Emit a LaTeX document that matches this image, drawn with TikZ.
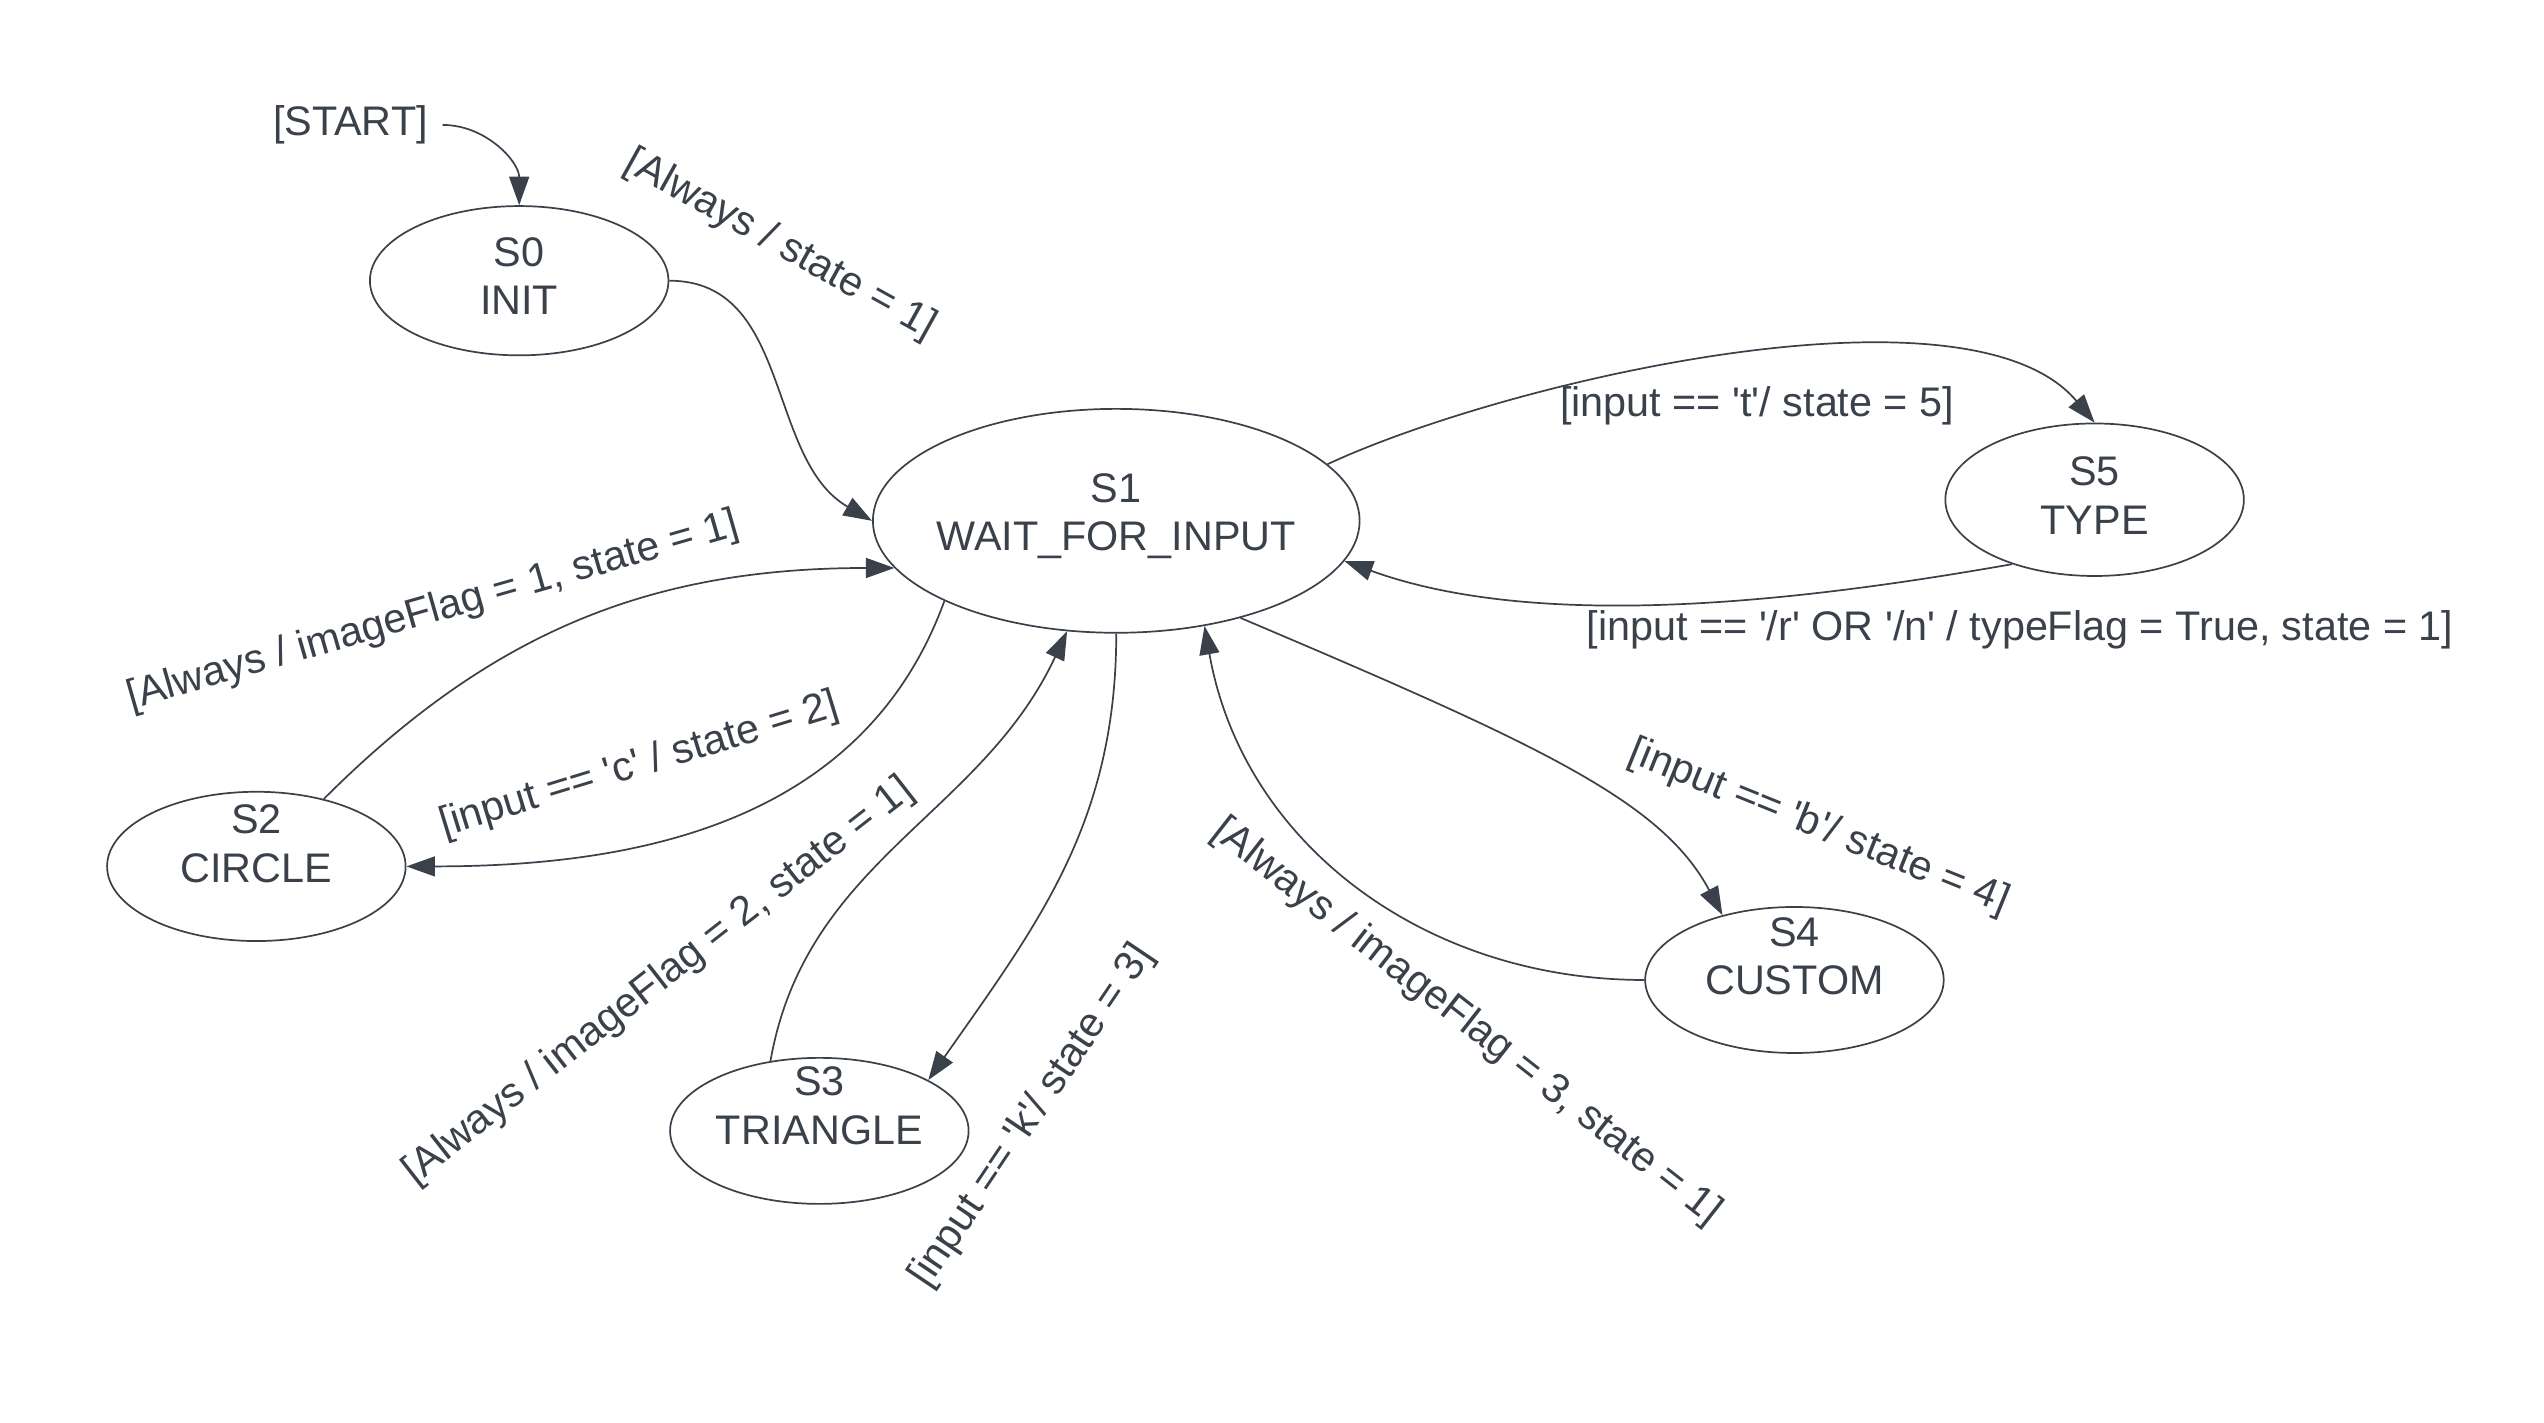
\documentclass[tikz,border=0pt]{standalone}
\usepackage{fontspec}
\setmainfont{Liberation Sans}
\usepackage{xcolor}
\usetikzlibrary{arrows.meta,shapes.geometric,positioning}

\definecolor{lucidgray}{HTML}{3A414A}
\newcommand{\apos}{\textquotesingle}

\begin{document}
\begin{tikzpicture}[
    every node/.style={text=lucidgray, font=\fontsize{14.5}{17}\selectfont},
    statenode/.style={draw=lucidgray, ellipse, line width=0.6pt, inner sep=0pt, minimum width=3.68cm, minimum height=1.84cm},
    statetext/.style={align=center, inner sep=0pt},
    trans/.style={draw=lucidgray, line width=0.6pt, -{Triangle[length=10pt,width=7pt]}},
    translabel/.style={inner sep=0pt}
]
        \useasboundingbox (0,0) rectangle (31.36,-17.54);

        % States
        \node[statenode] (s0) at (6.40,-3.46) {};
        \node[statenode, minimum width=6.00cm, minimum height=2.76cm] (s1) at (13.76,-6.42) {};
        \node[statenode] (s2) at (3.16,-10.68) {};
        \node[statenode, minimum height=1.80cm] (s3) at (10.10,-13.94) {};
        \node[statenode, minimum height=1.80cm] (s4) at (22.12,-12.08) {};
        \node[statenode, minimum height=1.88cm] (s5) at (25.82,-6.16) {};

        % State texts (sit a little above the centre)
        \node[statetext] (t0) at ([yshift=0.06cm]s0.center) {S0\\INIT};
        \node[statetext] (t1) at ([yshift=0.06cm]s1.center) {S1\\WAIT\_FOR\_INPUT};
        \node[statetext] (t2) at ([yshift=0.28cm]s2.center) {S2\\CIRCLE};
        \node[statetext] (t3) at ([yshift=0.31cm]s3.center) {S3\\TRIANGLE};
        \node[statetext] (t4) at ([yshift=0.29cm]s4.center) {S4\\CUSTOM};
        \node[statetext] (t5) at ([yshift=0.05cm]s5.center) {S5\\TYPE};

        % Entry
        \node[inner sep=5pt] (start) at (4.32,-1.54) {[START]};
        \draw[trans] (start.east) to[out=0,in=90] (s0.north);

        % S0 -> S1
        \draw[trans] (s0.east) to[out=0,in=150] (s1.west);
        \node[translabel, rotate=-29] (l01) at (9.62,-3.02) {[Always / state = 1]};

        % S1 <-> S5
        \draw[trans] (s1.15) to[out=25,in=130,looseness=0.65] (s5.north);
        \node[translabel] (l15) at (21.66,-5.00) {[input == \apos t\apos/ state = 5]};
        \draw[trans] (s5.218) to[out=190,in=-20,looseness=0.8] (s1.350);
        \node[translabel] (l51) at (24.90,-7.76) {[input == \apos/r\apos{} OR \apos/n\apos{} / typeFlag = True, state = 1]};

        % S1 <-> S2
        \draw[trans] (s2.45) to[out=45,in=180] (s1.192);
        \node[translabel, rotate=16] (l21) at (5.34,-7.54) {[Always / imageFlag = 1, state = 1]};
        \draw[trans] (s1.205) to[out=250,in=0] (s2.east);
        \node[translabel, rotate=17] (l12) at (7.88,-9.44) {[input == \apos c\apos{} / state = 2]};

        % S1 <-> S3
        \draw[trans] (s3.125) to[out=80,in=245] (s1.246);
        \node[translabel, rotate=38] (l31) at (8.12,-12.10) {[Always / imageFlag = 2, state = 1]};
        \draw[trans] (s1.south) to[out=270,in=55] (s3.25);
        \node[translabel, rotate=56] (l13) at (12.72,-13.76) {[input == \apos k\apos/ state = 3]};

        % S1 <-> S4
        \draw[trans] (s4.west) to[out=180,in=280] (s1.310);
        \node[translabel, rotate=-38] (l41) at (18.08,-12.60) {[Always / imageFlag = 3, state = 1]};
        \draw[trans] (s1.322) .. controls +(-23:4.0) and +(118:1.6) .. (s4.138);
        \node[translabel, rotate=-22] (l14) at (22.42,-10.20) {[input == \apos b\apos/ state = 4]};
\end{tikzpicture}
\end{document}
